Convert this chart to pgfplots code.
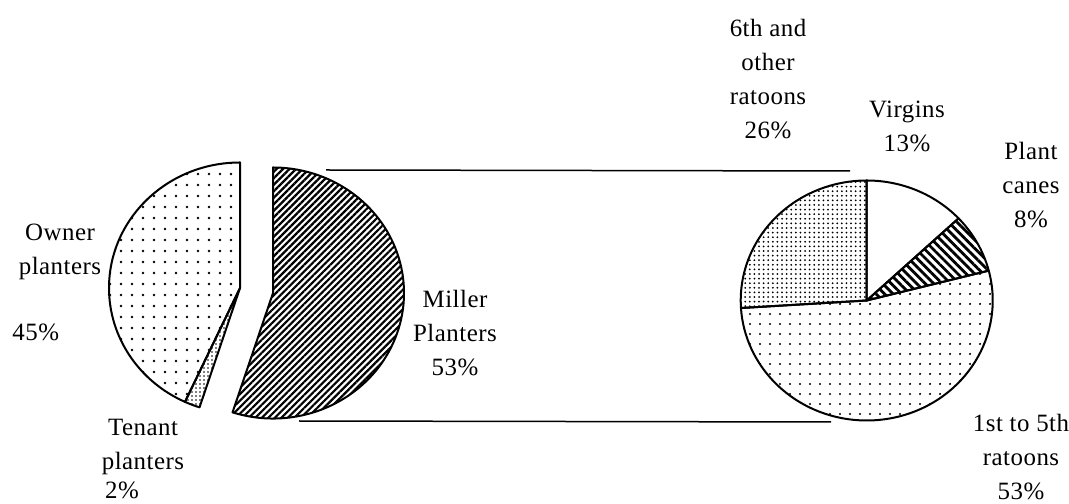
\documentclass[border=0pt]{standalone}
\usepackage{fontspec}
\setmainfont{Liberation Serif}[LetterSpace=2]
\usepackage{pgfplots}
\pgfplotsset{compat=1.18}
\usepackage{pgfplotstable}
\usetikzlibrary{patterns.meta}

% shares of the two pies (per cent, as drawn)
\pgfplotstableread{
slice share
owner 43.1
tenant 1.9
miller 55.0
}\leftpie
\pgfplotstableread{
slice share
virgins 13
plant 8
first 53
sixth 26
}\rightpie

% slice boundaries in degrees
\pgfplotstablegetelem{0}{share}\of\leftpie
\pgfmathsetmacro\aA{90+3.6*\pgfplotsretval}
\pgfplotstablegetelem{1}{share}\of\leftpie
\pgfmathsetmacro\aB{\aA+3.6*\pgfplotsretval}
\pgfplotstablegetelem{0}{share}\of\rightpie
\pgfmathsetmacro\bA{90-3.6*\pgfplotsretval}
\pgfplotstablegetelem{1}{share}\of\rightpie
\pgfmathsetmacro\bB{\bA-3.6*\pgfplotsretval}
\pgfplotstablegetelem{2}{share}\of\rightpie
\pgfmathsetmacro\bC{\bB-3.6*\pgfplotsretval}

% #1,#2 centre (axis units) #3,#4 radii (bp) #5,#6 angles #7 style
\newcommand\slice[7]{%
  \draw[line width=1bp,line join=round,#7] (axis cs:#1,#2) -- ++(#5:#3bp and #4bp)
    arc[start angle=#5,end angle=#6,x radius=#3bp,y radius=#4bp] -- cycle;}

\begin{document}
\begin{tikzpicture}[lbl/.style={align=center,inner sep=0pt,font=\fontsize{12.5}{17}\selectfont}]
\begin{axis}[
  hide axis,
  scale only axis,
  x=0.5bp, y=0.5bp,
  xmin=0, xmax=1069, ymin=0, ymax=504,
  clip=false
]
% left pie
\slice{240}{216}{65.5}{62.75}{90}{\aA}{pattern={Dots[distance=5.5bp,radius=0.65bp]}}
\slice{240}{216}{65.5}{62.75}{\aA}{\aB}{pattern={Dots[distance=2bp,radius=0.45bp]}}
\slice{273}{211}{65.5}{62.75}{\aB}{450}{pattern={Lines[angle=45,distance=2.3bp,line width=1.1bp]}}
% right pie
\slice{866.7}{203.5}{63}{60}{90}{\bA}{fill=white}
\slice{866.7}{203.5}{63}{60}{\bA}{\bB}{pattern={Lines[angle=-45,distance=3bp,line width=1.4bp]}}
\slice{866.7}{203.5}{63}{60}{\bB}{\bC}{pattern={Dots[distance=5bp,radius=0.6bp]}}
\slice{866.7}{203.5}{63}{60}{\bC}{-270}{pattern={Dots[distance=2.3bp,radius=0.5bp]}}
% connector lines
\draw[line width=0.75bp] (axis cs:326,334) -- (axis cs:850,333);
\draw[line width=0.75bp] (axis cs:299,83) -- (axis cs:831,82);
% labels
\node[lbl] at (axis cs:60,252) {Owner\\planters};
\node[lbl,anchor=west] at (axis cs:12,172) {45\%};
\node[lbl] at (axis cs:143,57) {Tenant\\planters};
\node[lbl] at (axis cs:122,14) {2\%};
\node[lbl] at (axis cs:455,171) {Miller\\Planters\\53\%};
\node[lbl] at (axis cs:768,425) {6th and\\other\\ratoons\\26\%};
\node[lbl] at (axis cs:907,378) {Virgins\\13\%};
\node[lbl] at (axis cs:1031,319) {Plant\\canes\\8\%};
\node[lbl] at (axis cs:1021,47) {1st to 5th\\ratoons\\53\%};
\end{axis}
\pgfresetboundingbox
\useasboundingbox (current axis.south west) rectangle (current axis.north east);
\end{tikzpicture}
\end{document}
